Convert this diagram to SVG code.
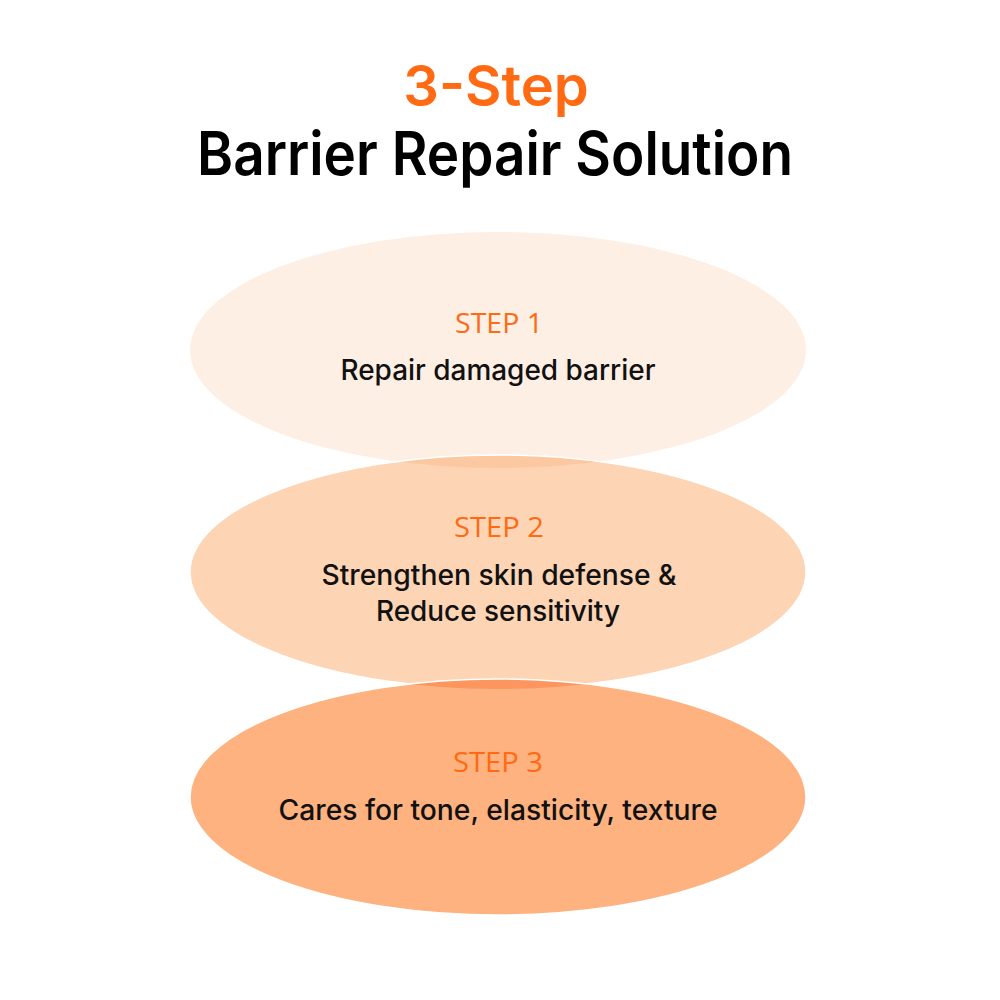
<svg xmlns="http://www.w3.org/2000/svg" width="1000" height="1000" viewBox="0 0 1000 1000">
<style>
.title{font-family:Inter,"Noto Sans","Liberation Sans",sans-serif;font-weight:600;text-anchor:middle}
.step{font-family:"Open Sans","Noto Sans","Liberation Sans",sans-serif;font-weight:500;font-size:28px;fill:#FF6A13;text-anchor:middle}
.body{font-family:Inter,"Noto Sans","Liberation Sans",sans-serif;font-weight:500;font-size:28px;fill:#111;text-anchor:middle}
.edge{fill:none;stroke:#fff;stroke-width:1.5}
</style>
<defs>
<clipPath id="c1"><ellipse cx="498" cy="350" rx="308" ry="118"/></clipPath>
<clipPath id="c2"><ellipse cx="498" cy="572" rx="308" ry="117"/></clipPath>
</defs>
<rect width="1000" height="1000" fill="#fff"/>
<text class="title" x="496" y="106" font-size="56" font-weight="700" fill="#FF6A13">3-Step</text>
<text class="title" x="495" y="175" font-size="60" fill="#000" textLength="596" lengthAdjust="spacingAndGlyphs">Barrier Repair Solution</text>
<g id="step1">
<ellipse cx="498" cy="350" rx="308" ry="118" fill="#FDEFE4"/>
</g>
<g id="step2">
<ellipse cx="498" cy="572" rx="308" ry="117" fill="#FDD4B4"/>
<ellipse cx="498" cy="572" rx="308" ry="117" fill="#FCC8A2" clip-path="url(#c1)"/>
<ellipse class="edge" cx="498" cy="572" rx="308" ry="117"/>
</g>
<g id="step3">
<ellipse cx="498" cy="797" rx="308" ry="118" fill="#FDB27F"/>
<ellipse cx="498" cy="797" rx="308" ry="118" fill="#FC955E" clip-path="url(#c2)"/>
<ellipse class="edge" cx="498" cy="797" rx="308" ry="118"/>
</g>
<g id="labels">
<text class="step" x="499" y="333" textLength="88" lengthAdjust="spacingAndGlyphs">STEP 1</text>
<text class="body" x="498" y="380" textLength="315" lengthAdjust="spacingAndGlyphs">Repair damaged barrier</text>
<text class="step" x="499" y="537" textLength="90" lengthAdjust="spacingAndGlyphs">STEP 2</text>
<text class="body" x="499" y="585" textLength="355" lengthAdjust="spacingAndGlyphs">Strengthen skin defense &amp;</text>
<text class="body" x="498" y="621" textLength="244" lengthAdjust="spacingAndGlyphs">Reduce sensitivity</text>
<text class="step" x="498" y="772" textLength="90" lengthAdjust="spacingAndGlyphs">STEP 3</text>
<text class="body" x="498" y="820" textLength="439" lengthAdjust="spacingAndGlyphs">Cares for tone, elasticity, texture</text>
</g>
</svg>
